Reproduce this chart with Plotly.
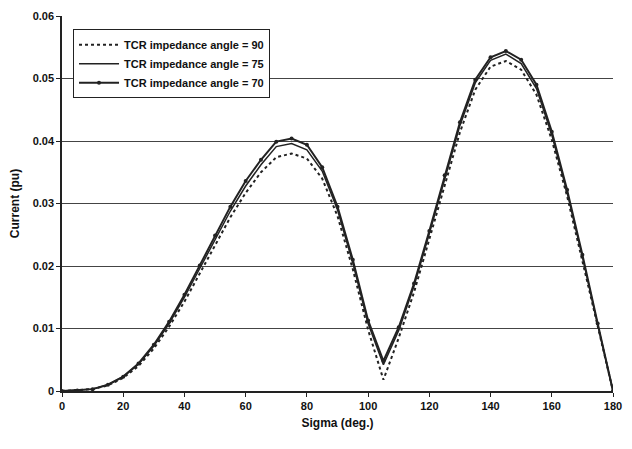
import plotly.graph_objects as go

sigma = [0, 5, 10, 15, 20, 25, 30, 35, 40, 45, 50, 55, 60, 65, 70, 75, 80, 85, 90,
         95, 100, 105, 110, 115, 120, 125, 130, 135, 140, 145, 150, 155, 160, 165,
         170, 175, 180]

cur_90 = [0, 0.0001, 0.0003, 0.0009, 0.0021, 0.0040, 0.0068, 0.0103, 0.0143, 0.0188,
          0.0234, 0.0278, 0.0317, 0.0350, 0.0374, 0.0380, 0.0372, 0.0340, 0.0280,
          0.0195, 0.0098, 0.0018, 0.0085, 0.0158, 0.0243, 0.0330, 0.0414, 0.0482,
          0.0519, 0.0528, 0.0514, 0.0474, 0.0402, 0.0312, 0.0210, 0.0104, 0]

cur_75 = [0, 0.0001, 0.0003, 0.0010, 0.0023, 0.0043, 0.0072, 0.0108, 0.0150, 0.0196,
          0.0243, 0.0288, 0.0328, 0.0362, 0.0391, 0.0396, 0.0386, 0.0352, 0.0290,
          0.0205, 0.0108, 0.0042, 0.0097, 0.0168, 0.0252, 0.0340, 0.0425, 0.0493,
          0.0529, 0.0539, 0.0524, 0.0484, 0.0410, 0.0318, 0.0215, 0.0106, 0]

cur_70 = [0, 0.0001, 0.0003, 0.0010, 0.0023, 0.0044, 0.0074, 0.0111, 0.0154, 0.0201,
          0.0249, 0.0295, 0.0336, 0.0370, 0.0399, 0.0404, 0.0394, 0.0358, 0.0295,
          0.0210, 0.0113, 0.0048, 0.0102, 0.0172, 0.0256, 0.0345, 0.0430, 0.0498,
          0.0534, 0.0544, 0.0530, 0.0490, 0.0415, 0.0322, 0.0218, 0.0108, 0]

x_ticks = [0, 20, 40, 60, 80, 100, 120, 140, 160, 180]
y_ticks = [0, 0.01, 0.02, 0.03, 0.04, 0.05, 0.06]
y_tick_labels = ["0", "0.01", "0.02", "0.03", "0.04", "0.05", "0.06"]

font = "Liberation Sans, Arial, sans-serif"

fig = go.Figure()
fig.add_trace(go.Scatter(x=sigma, y=cur_90, mode="lines",
                         name="<b>TCR impedance angle = 90</b>",
                         line=dict(color="#222", width=2, dash="dot")))
fig.add_trace(go.Scatter(x=sigma, y=cur_75, mode="lines",
                         name="<b>TCR impedance angle = 75</b>",
                         line=dict(color="#222", width=1.5)))
fig.add_trace(go.Scatter(x=sigma, y=cur_70, mode="lines+markers",
                         name="<b>TCR impedance angle = 70</b>",
                         line=dict(color="#222", width=2),
                         marker=dict(size=4, color="#222")))

fig.update_layout(
    width=632, height=449,
    margin=dict(l=62, r=10, t=15, b=58),
    paper_bgcolor="white", plot_bgcolor="white",
    font=dict(family=font, size=11, color="#111"),
    showlegend=True,
    legend=dict(x=0.02, y=0.965, xanchor="left", yanchor="top",
                bordercolor="#222", borderwidth=1, bgcolor="white",
                font=dict(size=11, color="#111"), tracegroupgap=0,
                itemwidth=40),
    xaxis=dict(range=[0, 180], tickvals=x_ticks, ticktext=[f"<b>{v}</b>" for v in x_ticks],
               showgrid=False, zeroline=False, showline=True, linecolor="#222",
               linewidth=1.5, ticks="outside", ticklen=4, tickcolor="#222",
               tickfont=dict(size=11, color="#111"),
               title=dict(text="<b>Sigma (deg.)</b>", font=dict(size=12), standoff=8)),
    yaxis=dict(range=[0, 0.06], tickvals=y_ticks, ticktext=[f"<b>{t}</b>" for t in y_tick_labels],
               showgrid=True, gridcolor="#444", gridwidth=1, zeroline=False,
               showline=True, linecolor="#222", linewidth=1.5, ticks="outside",
               ticklen=4, tickcolor="#222", tickfont=dict(size=11, color="#111"),
               title=dict(text="<b>Current (pu)</b>", font=dict(size=12), standoff=10)),
)

fig.write_html("out.html")
